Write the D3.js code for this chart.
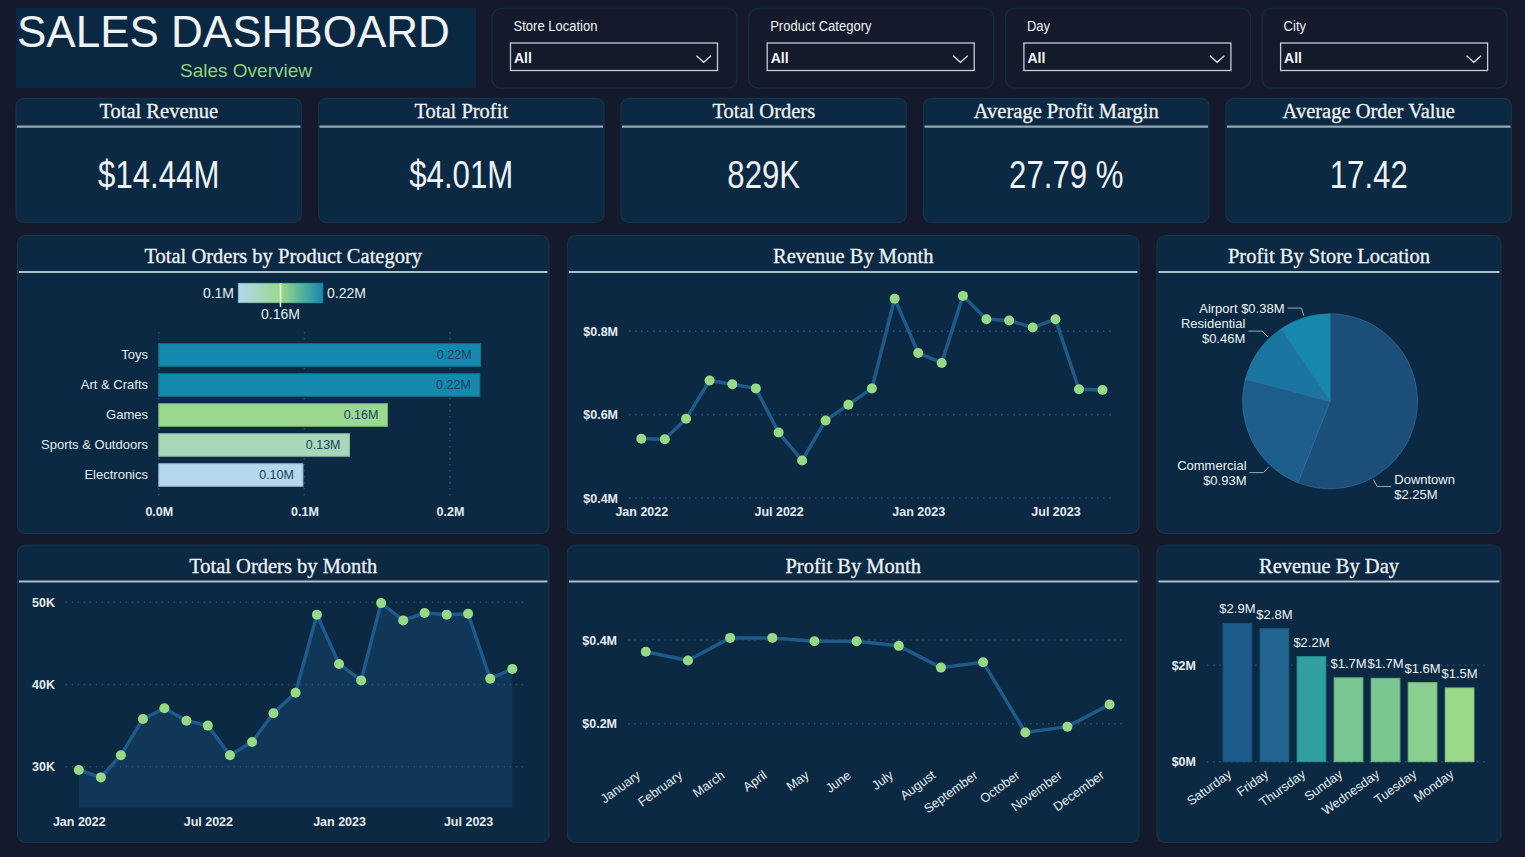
<!DOCTYPE html>
<html><head><meta charset="utf-8">
<script src="https://cdn.jsdelivr.net/npm/d3@7"></script>
<style>
html,body{margin:0;padding:0;background:#141a2c;}
svg{display:block;}
</style></head><body>
<svg id="c" width="1525" height="857"></svg>
<script>
// ---------------- DATA ----------------
const dashTitle = "SALES DASHBOARD";
const dashSubtitle = "Sales Overview";
const filterLabels = ["Store Location", "Product Category", "Day", "City"];
const filterValues = ["All", "All", "All", "All"];
const kpiTitles = ["Total Revenue", "Total Profit", "Total Orders", "Average Profit Margin", "Average Order Value"];
const kpiValues = ["$14.44M", "$4.01M", "829K", "27.79 %", "17.42"];

const categories = ["Toys", "Art & Crafts", "Games", "Sports & Outdoors", "Electronics"];
const categoryOrders = [0.2210, 0.2205, 0.1570, 0.1310, 0.0990];   // millions of orders
const categoryTicks = [0, 0.1, 0.2];
const legendLabels = ["0.1M", "0.16M", "0.22M"];
const legendMid = 0.16;

const months = ["2022-01","2022-02","2022-03","2022-04","2022-05","2022-06","2022-07","2022-08","2022-09","2022-10","2022-11","2022-12",
                "2023-01","2023-02","2023-03","2023-04","2023-05","2023-06","2023-07","2023-08","2023-09"];
const monthTicks = ["2022-01", "2022-07", "2023-01", "2023-07"];
const revenueByMonth = [0.542,0.541,0.590,0.682,0.673,0.663,0.557,0.490,0.586,0.624,0.663,0.878,
                        0.748,0.724,0.885,0.829,0.826,0.809,0.829,0.661,0.659];   // $M
const revenueTicks = [0.4, 0.6, 0.8];
const ordersByMonth = [29.6,28.7,31.4,35.8,37.1,35.6,35.0,31.4,33.0,36.5,39.0,48.5,
                       42.5,40.5,49.9,47.8,48.7,48.5,48.6,40.7,41.9];   // thousands
const orderTicks = [30, 40, 50];
const orderBase = 25;

const storeLocations = ["Downtown", "Commercial", "Residential", "Airport"];
const storeProfit = [2.25, 0.93, 0.46, 0.38];   // $M

const monthNames = ["January","February","March","April","May","June","July","August","September","October","November","December"];
const profitByMonth = [0.372,0.351,0.405,0.405,0.397,0.397,0.386,0.334,0.347,0.179,0.193,0.246];   // $M
const profitTicks = [0.2, 0.4];

const days = ["Saturday","Friday","Thursday","Sunday","Wednesday","Tuesday","Monday"];
const revenueByDay = [2.87, 2.76, 2.18, 1.74, 1.73, 1.64, 1.53];   // $M
const dayTicks = [0, 2];

// ---------------- STYLE / LAYOUT ----------------
const C = {
  page: "#141a2c", card: "#0b2942", cardStroke: "#1b3049", header: "#0b2842",
  text: "#e6ecf2", titleText: "#eef2f6", titleLine: "#b3bdc8",
  line: "#1e5a8a", dot: "#98d983", grid: "#22507a", area: "#103658"
};
const SANS = "'Liberation Sans', Arial, sans-serif";
const SERIF = "'Liberation Serif', 'Times New Roman', serif";
const parseMonth = d3.timeParse("%Y-%m");
const svg = d3.select("#c");

function card(x, y, w, h, title) {
  svg.append("rect").attr("x", x).attr("y", y).attr("width", w).attr("height", h).attr("rx", 8)
    .attr("fill", C.card).attr("stroke", C.cardStroke).attr("stroke-width", 1.2);
  svg.append("text").attr("x", x + w / 2).attr("y", y + 27.7).attr("text-anchor", "middle")
    .attr("font-family", SERIF).attr("font-size", 20.5).attr("fill", C.titleText)
    .attr("stroke", C.titleText).attr("stroke-width", 0.3).text(title);
  svg.append("line").attr("x1", x + 1.5).attr("x2", x + w - 1.5).attr("y1", y + 36.5).attr("y2", y + 36.5)
    .attr("stroke", C.titleLine).attr("stroke-width", 2);
}
function styleAxis(g, size, weight) {
  g.attr("font-family", SANS).attr("font-size", size);
  g.select(".domain").remove();
  g.selectAll(".tick line").remove();
  g.selectAll("text").attr("fill", C.text).attr("font-weight", weight);
}
function hGrid(scale, ticks, x1, x2) {
  svg.append("g").selectAll("line").data(ticks).join("line")
    .attr("x1", x1).attr("x2", x2).attr("y1", d => scale(d)).attr("y2", d => scale(d))
    .attr("stroke", C.grid).attr("stroke-width", 1.6).attr("stroke-dasharray", "1.6,4.4");
}
// condensed look (the original uses a narrow face): squeeze the natural width
function condense(sel, k) {
  sel.each(function () {
    const len = this.getComputedTextLength();
    d3.select(this).attr("textLength", len * k).attr("lengthAdjust", "spacingAndGlyphs");
  });
}

// ---------------- HEADER ----------------
svg.append("rect").attr("x", 16).attr("y", 8).attr("width", 460).attr("height", 80).attr("fill", C.header);
svg.append("text").attr("x", 17).attr("y", 47).attr("font-family", SANS).attr("font-size", 44)
  .attr("fill", "#eef3f8").text(dashTitle);
svg.append("text").attr("x", 246).attr("y", 76.5).attr("text-anchor", "middle").attr("font-family", SANS)
  .attr("font-size", 19).attr("fill", "#8fd17c").text(dashSubtitle);

// ---------------- FILTERS ----------------
filterLabels.forEach((lab, i) => {
  const bx = 492 + i * 256.7;
  svg.append("rect").attr("x", bx).attr("y", 8.5).attr("width", 245).attr("height", 79.5).attr("rx", 9)
    .attr("fill", C.page).attr("stroke", "#102a40").attr("stroke-width", 1.5);
  svg.append("text").attr("x", bx + 21.5).attr("y", 31).attr("font-family", SANS).attr("font-size", 14)
    .attr("fill", "#f0f2f4").text(lab).call(condense, 0.93);
  svg.append("rect").attr("x", bx + 18.5).attr("y", 43).attr("width", 207).attr("height", 27.5)
    .attr("fill", "#131a2a").attr("stroke", "#c9cccf").attr("stroke-width", 1.3);
  svg.append("text").attr("x", bx + 22).attr("y", 63).attr("font-family", SANS).attr("font-size", 14)
    .attr("font-weight", "bold").attr("fill", "#f4f6f8").text(filterValues[i]);
  svg.append("path").attr("d", `M${bx + 204.5},55.7 L${bx + 211.7},62.3 L${bx + 219},55.7`)
    .attr("fill", "none").attr("stroke", "#e0e3e6").attr("stroke-width", 1.3);
});

// ---------------- KPI CARDS ----------------
kpiTitles.forEach((t, i) => {
  const x = 16 + i * 302.5, y = 98.3, w = 285.5, h = 124;
  svg.append("rect").attr("x", x).attr("y", y).attr("width", w).attr("height", h).attr("rx", 8)
    .attr("fill", C.card).attr("stroke", C.cardStroke).attr("stroke-width", 1.2);
  svg.append("text").attr("x", x + w / 2).attr("y", y + 20).attr("text-anchor", "middle")
    .attr("font-family", SERIF).attr("font-size", 20.5).attr("fill", C.titleText)
    .attr("stroke", C.titleText).attr("stroke-width", 0.3).text(t);
  svg.append("line").attr("x1", x + 1).attr("x2", x + w - 1).attr("y1", 126.7).attr("y2", 126.7)
    .attr("stroke", "#9aa6b2").attr("stroke-width", 2.2);
  svg.append("text").attr("x", x + w / 2).attr("y", 188).attr("text-anchor", "middle")
    .attr("font-family", SANS).attr("font-size", 38).attr("fill", "#eef2f6").text(kpiValues[i])
    .call(condense, 0.82);
});

// ---------------- CHART CARDS ----------------
card(17.5, 235.5, 531.5, 298, "Total Orders by Product Category");
card(567.5, 235.5, 571.5, 298, "Revenue By Month");
card(1157, 235.5, 344, 298, "Profit By Store Location");
card(17.5, 545, 531.5, 297.5, "Total Orders by Month");
card(567.5, 545, 571.5, 297.5, "Profit By Month");
card(1157, 545, 344, 297.5, "Revenue By Day");

// ---------------- 1. Total Orders by Product Category ----------------
{
  const x = d3.scaleLinear().domain([0, 0.2]).range([158.8, 450]);
  const y = d3.scaleBand().domain(categories).range([340, 490]).paddingInner(0.25).paddingOuter(0.125);
  const ext = d3.extent(categoryOrders);
  const color = d3.scaleLinear().domain([ext[0], legendMid, ext[1]]).range(["#b4d7ee", "#9bd98b", "#1589ad"]);

  // legend
  const defs = svg.append("defs");
  const lg = defs.append("linearGradient").attr("id", "lg");
  [[0, "#b4d7ee"], [0.5, "#9bd98b"], [1, "#1589ad"]].forEach(s =>
    lg.append("stop").attr("offset", s[0]).attr("stop-color", s[1]));
  svg.append("rect").attr("x", 238).attr("y", 283).attr("width", 85).attr("height", 20).attr("fill", "url(#lg)")
    .attr("stroke", "#1a6f90").attr("stroke-width", 0.6);
  svg.append("line").attr("x1", 280.5).attr("x2", 280.5).attr("y1", 283).attr("y2", 307)
    .attr("stroke", "#f4f8ee").attr("stroke-width", 1.5);
  svg.append("text").attr("x", 234).attr("y", 298).attr("text-anchor", "end").attr("font-family", SANS)
    .attr("font-size", 14).attr("fill", C.text).text(legendLabels[0]);
  svg.append("text").attr("x", 327).attr("y", 298).attr("font-family", SANS)
    .attr("font-size", 14).attr("fill", C.text).text(legendLabels[2]);
  svg.append("text").attr("x", 280.5).attr("y", 319).attr("text-anchor", "middle").attr("font-family", SANS)
    .attr("font-size", 14).attr("fill", C.text).text(legendLabels[1]);

  // vertical dotted grid
  svg.append("g").selectAll("line").data(categoryTicks).join("line")
    .attr("x1", d => x(d)).attr("x2", d => x(d)).attr("y1", 332).attr("y2", 499)
    .attr("stroke", C.grid).attr("stroke-width", 1.6).attr("stroke-dasharray", "1.6,4.4");

  svg.append("g").selectAll("rect").data(categoryOrders).join("rect")
    .attr("x", x(0)).attr("y", (d, i) => y(categories[i])).attr("width", d => x(d) - x(0))
    .attr("height", y.bandwidth()).attr("fill", d => color(d))
    .attr("stroke", d => d3.color(color(d)).darker(0.45)).attr("stroke-width", 1);
  svg.append("g").selectAll("text").data(categoryOrders).join("text")
    .attr("x", d => x(d) - 9).attr("y", (d, i) => y(categories[i]) + y.bandwidth() / 2)
    .attr("dy", "0.35em").attr("text-anchor", "end").attr("font-family", SANS).attr("font-size", 12.5)
    .attr("fill", "#1d3e5c").text(d => d.toFixed(2) + "M");

  const ga = svg.append("g").attr("transform", "translate(148,0)")
    .call(d3.axisLeft(y).tickSize(0).tickPadding(0));
  styleAxis(ga, 13, "normal");
  const gb = svg.append("g").attr("transform", "translate(0,507)")
    .call(d3.axisBottom(x).tickValues(categoryTicks).tickFormat(d => d.toFixed(1) + "M").tickSize(0).tickPadding(0));
  styleAxis(gb, 12.5, "bold");
}

// ---------------- 2. Revenue By Month ----------------
{
  const dates = months.map(parseMonth);
  const x = d3.scaleTime().domain(d3.extent(dates)).range([641.3, 1102.5]);
  const y = d3.scaleLinear().domain([0.4, 0.8]).range([498, 331.3]);
  hGrid(y, revenueTicks, 629, 1112);
  svg.append("path").datum(revenueByMonth)
    .attr("d", d3.line().x((d, i) => x(dates[i])).y(d => y(d)))
    .attr("fill", "none").attr("stroke", C.line).attr("stroke-width", 3.5).attr("stroke-linejoin", "round");
  svg.append("g").selectAll("circle").data(revenueByMonth).join("circle")
    .attr("cx", (d, i) => x(dates[i])).attr("cy", d => y(d)).attr("r", 5).attr("fill", C.dot);
  const ga = svg.append("g").attr("transform", "translate(618,0)")
    .call(d3.axisLeft(y).tickValues(revenueTicks).tickFormat(d => "$" + d.toFixed(1) + "M").tickSize(0).tickPadding(0));
  styleAxis(ga, 12.5, "bold");
  const gb = svg.append("g").attr("transform", "translate(0,507)")
    .call(d3.axisBottom(x).tickValues(monthTicks.map(parseMonth)).tickFormat(d3.timeFormat("%b %Y")).tickSize(0).tickPadding(0));
  styleAxis(gb, 12.5, "bold");
}

// ---------------- 3. Profit By Store Location ----------------
{
  const cx = 1330, cy = 401.3, r = 87.5;
  const colors = ["#1b4e78", "#1e5e8d", "#1a75a0", "#1789ae"];
  const pieLabelLayout = [{ angle: 151, twoLines: true }, { angle: 223, twoLines: true },
                          { angle: 316, twoLines: true }, { angle: 343, twoLines: false }];
  const arcs = d3.pie().sort(null).value(d => d)(storeProfit);
  const arc = d3.arc().innerRadius(0).outerRadius(r);
  const g = svg.append("g").attr("transform", `translate(${cx},${cy})`);
  g.selectAll("path").data(arcs).join("path").attr("d", arc)
    .attr("fill", (d, i) => colors[i]).attr("stroke", "#3a74a0").attr("stroke-width", 0.6);
  arcs.forEach((a, i) => {
    const L = pieLabelLayout[i];
    const ang = L.angle * Math.PI / 180;
    const p = rr => [Math.sin(ang) * rr, -Math.cos(ang) * rr];
    const a0 = p(r + 2), a1 = p(r + 10);
    const dir = Math.sin(ang) >= 0 ? 1 : -1;
    const a2 = [a1[0] + dir * 14, a1[1]];
    g.append("polyline").attr("points", [a0, a1, a2].map(q => q.join(",")).join(" "))
      .attr("fill", "none").attr("stroke", "#9aa6b2").attr("stroke-width", 1);
    const tx = a2[0] + dir * 3;
    const val = "$" + storeProfit[i].toFixed(2) + "M";
    const t = g.append("text").attr("x", tx).attr("text-anchor", dir > 0 ? "start" : "end")
      .attr("font-family", SANS).attr("font-size", 13).attr("fill", "#eef2f6");
    if (L.twoLines) {
      t.append("tspan").attr("x", tx).attr("y", a1[1] - 7.5).attr("dy", "0.35em").text(storeLocations[i]);
      t.append("tspan").attr("x", tx).attr("y", a1[1] + 7.5).attr("dy", "0.35em").text(val);
    } else {
      t.attr("y", a1[1]).attr("dy", "0.35em").text(storeLocations[i] + " " + val);
    }
  });
}

// ---------------- 4. Total Orders by Month ----------------
{
  const dates = months.map(parseMonth);
  const x = d3.scaleTime().domain(d3.extent(dates)).range([78.8, 512.3]);
  const y = d3.scaleLinear().domain([30, 50]).range([766.7, 602.3]);
  svg.append("path").datum(ordersByMonth)
    .attr("d", d3.area().x((d, i) => x(dates[i])).y0(y(orderBase)).y1(d => y(d)))
    .attr("fill", C.area);
  hGrid(y, orderTicks, 65.6, 526);
  svg.append("path").datum(ordersByMonth)
    .attr("d", d3.line().x((d, i) => x(dates[i])).y(d => y(d)))
    .attr("fill", "none").attr("stroke", C.line).attr("stroke-width", 3.5).attr("stroke-linejoin", "round");
  svg.append("g").selectAll("circle").data(ordersByMonth).join("circle")
    .attr("cx", (d, i) => x(dates[i])).attr("cy", d => y(d)).attr("r", 5).attr("fill", C.dot);
  const ga = svg.append("g").attr("transform", "translate(55,0)")
    .call(d3.axisLeft(y).tickValues(orderTicks).tickFormat(d => d + "K").tickSize(0).tickPadding(0));
  styleAxis(ga, 12.5, "bold");
  const gb = svg.append("g").attr("transform", "translate(0,816.8)")
    .call(d3.axisBottom(x).tickValues(monthTicks.map(parseMonth)).tickFormat(d3.timeFormat("%b %Y")).tickSize(0).tickPadding(0));
  styleAxis(gb, 12.5, "bold");
}

// ---------------- 5. Profit By Month ----------------
{
  const x = d3.scalePoint().domain(monthNames).range([645.8, 1109.6]);
  const y = d3.scaleLinear().domain([0.2, 0.4]).range([723.7, 640]);
  hGrid(y, profitTicks, 628, 1123);
  svg.append("path").datum(profitByMonth)
    .attr("d", d3.line().x((d, i) => x(monthNames[i])).y(d => y(d)))
    .attr("fill", "none").attr("stroke", C.line).attr("stroke-width", 3.5).attr("stroke-linejoin", "round");
  svg.append("g").selectAll("circle").data(profitByMonth).join("circle")
    .attr("cx", (d, i) => x(monthNames[i])).attr("cy", d => y(d)).attr("r", 5).attr("fill", C.dot);
  const ga = svg.append("g").attr("transform", "translate(617,0)")
    .call(d3.axisLeft(y).tickValues(profitTicks).tickFormat(d => "$" + d.toFixed(1) + "M").tickSize(0).tickPadding(0));
  styleAxis(ga, 12.5, "bold");
  const gb = svg.append("g").attr("transform", "translate(-5,777)")
    .call(d3.axisBottom(x).tickSize(0).tickPadding(0));
  styleAxis(gb, 12.8, "normal");
  gb.selectAll("text").attr("y", 0).attr("dy", 0).attr("text-anchor", "end").attr("transform", "rotate(-36)");
}

// ---------------- 6. Revenue By Day ----------------
{
  const x = d3.scaleBand().domain(days).range([1218.9, 1478.1]).paddingInner(0.224).paddingOuter(0.112);
  const y = d3.scaleLinear().domain([0, 2]).range([761.7, 665.3]);
  const ext = d3.extent(revenueByDay);
  const color = d3.scaleLinear().domain([ext[0], revenueByDay[2], ext[1]]).range(["#9bd98b", "#31a0a2", "#1e5b8d"]);
  hGrid(y, dayTicks, 1207, 1488);
  svg.append("g").selectAll("rect").data(revenueByDay).join("rect")
    .attr("x", (d, i) => x(days[i])).attr("y", d => y(d)).attr("width", x.bandwidth())
    .attr("height", d => y(0) - y(d)).attr("fill", d => color(d))
    .attr("stroke", d => d3.color(color(d)).darker(0.35)).attr("stroke-width", 1);
  svg.append("g").selectAll("text").data(revenueByDay).join("text")
    .attr("x", (d, i) => x(days[i]) + x.bandwidth() / 2).attr("y", d => y(d) - 10)
    .attr("text-anchor", "middle").attr("font-family", SANS).attr("font-size", 13).attr("fill", "#eef2f6")
    .text(d => "$" + d.toFixed(1) + "M");
  const ga = svg.append("g").attr("transform", "translate(1196,0)")
    .call(d3.axisLeft(y).tickValues(dayTicks).tickFormat(d => "$" + d + "M").tickSize(0).tickPadding(0));
  styleAxis(ga, 12.5, "bold");
  const gb = svg.append("g").attr("transform", "translate(-5,776)")
    .call(d3.axisBottom(x).tickSize(0).tickPadding(0));
  styleAxis(gb, 12.8, "normal");
  gb.selectAll("text").attr("y", 0).attr("dy", 0).attr("text-anchor", "end").attr("transform", "rotate(-36)");
}
</script>
</body></html>
